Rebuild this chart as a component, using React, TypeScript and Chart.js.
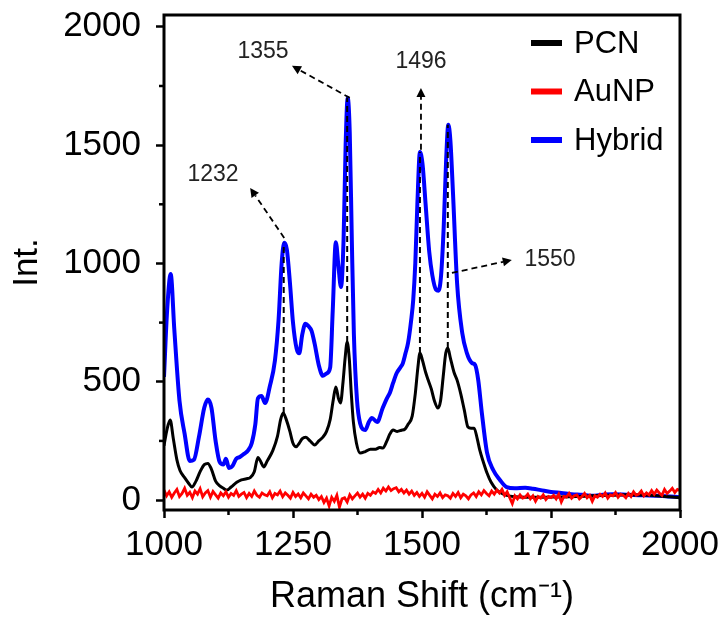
import React, { useEffect, useRef } from "react";
import { Chart, registerables } from "chart.js";
Chart.register(...registerables);

const FONT = '"Liberation Sans", Arial, Helvetica, sans-serif';

// Hybrid (blue)
const hybridX = [1000, 1006, 1013, 1020, 1030, 1040, 1050, 1058, 1068, 1078, 1085, 1092, 1100, 1108, 1115, 1120, 1126, 1133, 1140, 1147, 1155, 1163, 1170, 1177, 1182, 1189, 1196, 1205, 1215, 1222, 1228, 1233, 1238, 1244, 1250, 1257, 1262, 1268, 1274, 1280, 1286, 1292, 1300, 1308, 1315, 1322, 1327, 1333, 1338, 1343, 1348, 1352, 1356, 1360, 1364, 1368, 1374, 1380, 1390, 1397, 1403, 1413, 1424, 1432, 1438, 1444, 1451, 1458, 1463, 1468, 1473, 1479, 1483, 1487, 1491, 1496, 1501, 1507, 1514, 1520, 1527, 1532, 1537, 1542, 1547, 1551, 1555, 1560, 1568, 1578, 1587, 1597, 1603, 1609, 1616, 1626, 1638, 1651, 1664, 1680, 1700, 1715, 1730, 1750, 1770, 1790, 1810, 1830, 1850, 1870, 1900, 1930, 1960, 1980, 2000];
const hybridY = [520, 800, 955, 720, 420, 280, 165, 170, 270, 390, 425, 390, 250, 160, 150, 175, 135, 145, 175, 182, 195, 210, 240, 320, 430, 440, 410, 480, 590, 760, 1000, 1087, 1060, 920, 750, 640, 620, 700, 745, 735, 715, 660, 570, 525, 535, 560, 800, 1090, 990, 900, 1100, 1500, 1700, 1550, 1100, 700, 423, 325, 296, 330, 347, 330, 390, 430, 455, 495, 537, 560, 579, 620, 664, 760, 846, 1000, 1250, 1471, 1420, 1250, 1050, 950, 890, 885, 950, 1150, 1450, 1586, 1520, 1300, 917, 706, 621, 579, 571, 507, 368, 200, 127, 85, 55, 50, 52, 48, 42, 34, 30, 25, 22, 18, 22, 25, 22, 20, 18, 15, 12];

// PCN (black)
const pcnX = [1000, 1006, 1012, 1018, 1025, 1031, 1040, 1048, 1054, 1062, 1070, 1078, 1085, 1092, 1100, 1108, 1115, 1122, 1130, 1141, 1150, 1160, 1167, 1175, 1182, 1188, 1193, 1200, 1211, 1220, 1226, 1231, 1237, 1244, 1250, 1256, 1262, 1268, 1275, 1283, 1292, 1300, 1308, 1315, 1322, 1328, 1333, 1338, 1342, 1347, 1351, 1355, 1359, 1363, 1367, 1373, 1380, 1390, 1400, 1410, 1418, 1424, 1432, 1438, 1444, 1452, 1460, 1467, 1473, 1481, 1487, 1492, 1496, 1501, 1507, 1512, 1518, 1524, 1531, 1536, 1541, 1546, 1550, 1555, 1562, 1568, 1575, 1582, 1589, 1595, 1601, 1607, 1612, 1619, 1626, 1634, 1645, 1655, 1664, 1680, 1700, 1730, 1760, 1800, 1830, 1860, 1900, 1940, 1970, 2000];
const pcnY = [230, 300, 338, 260, 170, 125, 95, 70, 55, 80, 120, 150, 155, 130, 80, 60, 50, 42, 55, 75, 85, 90, 95, 120, 180, 160, 140, 165, 210, 270, 340, 368, 340, 290, 240, 225, 240, 260, 265, 250, 233, 250, 266, 290, 340, 423, 478, 430, 410, 500, 600, 668, 600, 450, 330, 240, 199, 205, 215, 215, 222, 220, 250, 280, 296, 290, 295, 300, 320, 355, 450, 560, 621, 590, 540, 507, 470, 420, 389, 420, 520, 620, 643, 600, 540, 507, 450, 380, 309, 304, 304, 260, 211, 160, 114, 75, 42, 28, 20, 14, 12, 12, 13, 15, 18, 20, 22, 20, 15, 10];

// AuNP (red), sampled every 5 cm-1 from 1000 to 2000
const aunpStart = 1000;
const aunpStep = 5;
const aunpY = [
  42, 18, 35, 12, 30, 45, 15, 28, 50, 20,
  33, 10, 38, 25, 48, 14, 30, 40, 12, 36,
  22, 8, 30, 18, 35, 12, 28, 20, 40, 15,
  25, 32, 10, 28, 15, 38, 20, 12, 30, 22,
  18, 35, 10, 28, 22, 38, 14, 30, 20, 8,
  32, 15, 26, 10, 30, 18, 5, 25, 12, 20,
  2, 15, -10, 8, -25, 12, -5, 20, -30, 5,
  10, -8, 22, 5, 18, 30, 12, 25, 8, 28,
  20, 35, 28, 45, 30, 50, 38, 55, 40, 48,
  52, 35, 45, 30, 42, 25, 38, 20, 32, 15,
  28, 12, 35, 20, 5, 25, 15, 30, 10, 22,
  18, 8, 28, 15, 32, 10, 25, 18, 5, 22,
  30, 15, 35, 22, 40, 28, 18, 38, 25, 42,
  30, 45, 20, 35, 10, -15, 18, 5, 22, 8,
  12, 25, 5, 18, -5, 15, 8, 22, 2, 15,
  10, 20, 5, 25, -8, 15, 12, 28, 8, 18,
  22, 5, 15, 28, 10, 20, -5, 18, 12, 25,
  15, 30, 8, 22, 18, 32, 12, 25, 20, 10,
  28, 15, 35, 20, 25, 38, 18, 30, 22, 40,
  25, 42, 30, 20, 45, 28, 38, 50, 32, 45,
  40,
];

const xTickValues = [1000, 1250, 1500, 1750, 2000];
const yTickValues = [0, 500, 1000, 1500, 2000];
const xMinorTicks = [1125, 1375, 1625, 1875];
const yMinorTicks = [250, 750, 1250, 1750];

// Peak markers: dashed link from PCN peak to Hybrid peak
const peakLabels = ["1232", "1355", "1496", "1550"];
const peakX = [1232, 1355, 1496, 1550];
const peakLow = [368, 668, 621, 643];
const peakHigh = [1087, 1700, 1471, 1586];

// Arrow annotations in data space: from (fx,fy) to (tx,ty), label at (lx,ly)
const arrowFromX = [1233, 1360, 1498, 1558];
const arrowFromY = [1108, 1700, 1480, 960];
const arrowToX = [1167, 1248, 1498, 1674];
const arrowToY = [1319, 1835, 1742, 1015];
const labelX = [1095, 1192, 1498, 1748];
const labelY = [1374, 1894, 1852, 1015];

const legendNames = ["PCN", "AuNP", "Hybrid"];
const legendColors = ["#000000", "#ff0000", "#0000ff"];

const overlayPlugin = {
  id: "overlay",
  afterDatasetsDraw(chart: any) {
    const { ctx, chartArea: a, scales } = chart;
    const xs = scales.x;
    const ys = scales.y;
    ctx.save();
    ctx.strokeStyle = "#000";
    ctx.fillStyle = "#000";
    ctx.lineWidth = 2;
    ctx.setLineDash([6, 4]);
    peakX.forEach((v, i) => {
      const px = xs.getPixelForValue(v);
      ctx.beginPath();
      ctx.moveTo(px, ys.getPixelForValue(peakLow[i]));
      ctx.lineTo(px, ys.getPixelForValue(peakHigh[i]));
      ctx.stroke();
    });
    // arrows
    ctx.lineWidth = 1.8;
    arrowFromX.forEach((_, i) => {
      const x0 = xs.getPixelForValue(arrowFromX[i]);
      const y0 = ys.getPixelForValue(arrowFromY[i]);
      const x1 = xs.getPixelForValue(arrowToX[i]);
      const y1 = ys.getPixelForValue(arrowToY[i]);
      const ang = Math.atan2(y1 - y0, x1 - x0);
      const head = 9;
      ctx.setLineDash([6, 4]);
      ctx.beginPath();
      ctx.moveTo(x0, y0);
      ctx.lineTo(x1 - Math.cos(ang) * head, y1 - Math.sin(ang) * head);
      ctx.stroke();
      ctx.setLineDash([]);
      ctx.beginPath();
      ctx.moveTo(x1, y1);
      ctx.lineTo(x1 - Math.cos(ang) * head + Math.sin(ang) * 4.5, y1 - Math.sin(ang) * head - Math.cos(ang) * 4.5);
      ctx.lineTo(x1 - Math.cos(ang) * head - Math.sin(ang) * 4.5, y1 - Math.sin(ang) * head + Math.cos(ang) * 4.5);
      ctx.closePath();
      ctx.fill();
    });
    ctx.setLineDash([]);
    ctx.font = `23px ${FONT}`;
    ctx.fillStyle = "#222";
    ctx.textAlign = "center";
    ctx.textBaseline = "middle";
    peakLabels.forEach((t, i) => {
      ctx.fillText(t, xs.getPixelForValue(labelX[i]), ys.getPixelForValue(labelY[i]));
    });
    // frame
    ctx.strokeStyle = "#000";
    ctx.lineWidth = 3;
    ctx.strokeRect(a.left, a.top, a.right - a.left, a.bottom - a.top);
    // minor ticks
    ctx.lineWidth = 2.5;
    xMinorTicks.forEach((v) => {
      const px = xs.getPixelForValue(v);
      ctx.beginPath();
      ctx.moveTo(px, a.bottom);
      ctx.lineTo(px, a.bottom + 5);
      ctx.stroke();
    });
    yMinorTicks.forEach((v) => {
      const py = ys.getPixelForValue(v);
      ctx.beginPath();
      ctx.moveTo(a.left - 5, py);
      ctx.lineTo(a.left, py);
      ctx.stroke();
    });
    // legend
    ctx.font = `31px ${FONT}`;
    ctx.textAlign = "left";
    ctx.textBaseline = "middle";
    legendNames.forEach((n, i) => {
      const y = a.top + 28 + i * 48.5;
      ctx.strokeStyle = legendColors[i];
      ctx.lineWidth = 6;
      ctx.beginPath();
      ctx.moveTo(a.right - 149, y);
      ctx.lineTo(a.right - 118, y);
      ctx.stroke();
      ctx.fillStyle = "#000";
      ctx.fillText(n, a.right - 106, y + 1);
    });
    ctx.restore();
  },
};

export default function App() {
  const ref = useRef<HTMLCanvasElement | null>(null);
  useEffect(() => {
    document.body.style.margin = "0";
    const canvas = ref.current;
    if (!canvas) return;
    const aunpPts = aunpY.map((v, i) => ({ x: aunpStart + i * aunpStep, y: v }));
    const pcnPts = pcnX.map((x, i) => ({ x, y: pcnY[i] }));
    const hybPts = hybridX.map((x, i) => ({ x, y: hybridY[i] }));
    const chart = new Chart(canvas, {
      type: "line",
      data: {
        datasets: [
          { label: "AuNP", data: aunpPts, borderColor: "#ff0000", borderWidth: 2.8, pointRadius: 0, tension: 0 },
          { label: "PCN", data: pcnPts, borderColor: "#000000", borderWidth: 3, pointRadius: 0, cubicInterpolationMode: "monotone" },
          { label: "Hybrid", data: hybPts, borderColor: "#0000ff", borderWidth: 4, pointRadius: 0, cubicInterpolationMode: "monotone" },
        ],
      },
      options: {
        animation: false,
        responsive: false,
        devicePixelRatio: 1,
        layout: { padding: { top: 15, right: 48, left: 0, bottom: 0 } },
        plugins: { legend: { display: false }, tooltip: { enabled: false } },
        scales: {
          x: {
            type: "linear",
            min: 1000,
            max: 2000,
            afterFit(s: any) {
              s.height = 118;
              s.paddingLeft = 0;
              s.paddingRight = 0;
            },
            afterBuildTicks(s: any) {
              s.ticks = xTickValues.map((v) => ({ value: v }));
            },
            ticks: { font: { size: 35, family: FONT }, color: "#000", padding: 6, maxRotation: 0, callback: (v: any) => String(v) },
            grid: { display: true, drawOnChartArea: false, drawTicks: true, tickLength: 8, tickWidth: 2.5, tickColor: "#000" },
            border: { display: false },
            title: { display: true, text: "Raman Shift (cm⁻¹)", font: { size: 36, family: FONT }, color: "#000", padding: { top: 0, bottom: 9 } },
          },
          y: {
            type: "linear",
            min: -42,
            max: 2050,
            afterFit(s: any) {
              s.width = 164;
              s.paddingTop = 0;
              s.paddingBottom = 0;
            },
            afterBuildTicks(s: any) {
              s.ticks = yTickValues.map((v) => ({ value: v }));
            },
            ticks: { font: { size: 35, family: FONT }, color: "#000", padding: 15, callback: (v: any) => String(v) },
            grid: { display: true, drawOnChartArea: false, drawTicks: true, tickLength: 8, tickWidth: 2.5, tickColor: "#000" },
            border: { display: false },
            title: { display: true, text: "Int.", font: { size: 35, family: FONT }, color: "#000", padding: { top: 6, bottom: 0 } },
          },
        },
      },
      plugins: [overlayPlugin],
    });
    return () => chart.destroy();
  }, []);
  return (
    <div style={{ position: "fixed", left: 0, top: 0, width: 728, height: 628, background: "#fff" }}>
      <canvas ref={ref} width={728} height={628} style={{ width: 728, height: 628, display: "block" }} />
    </div>
  );
}
